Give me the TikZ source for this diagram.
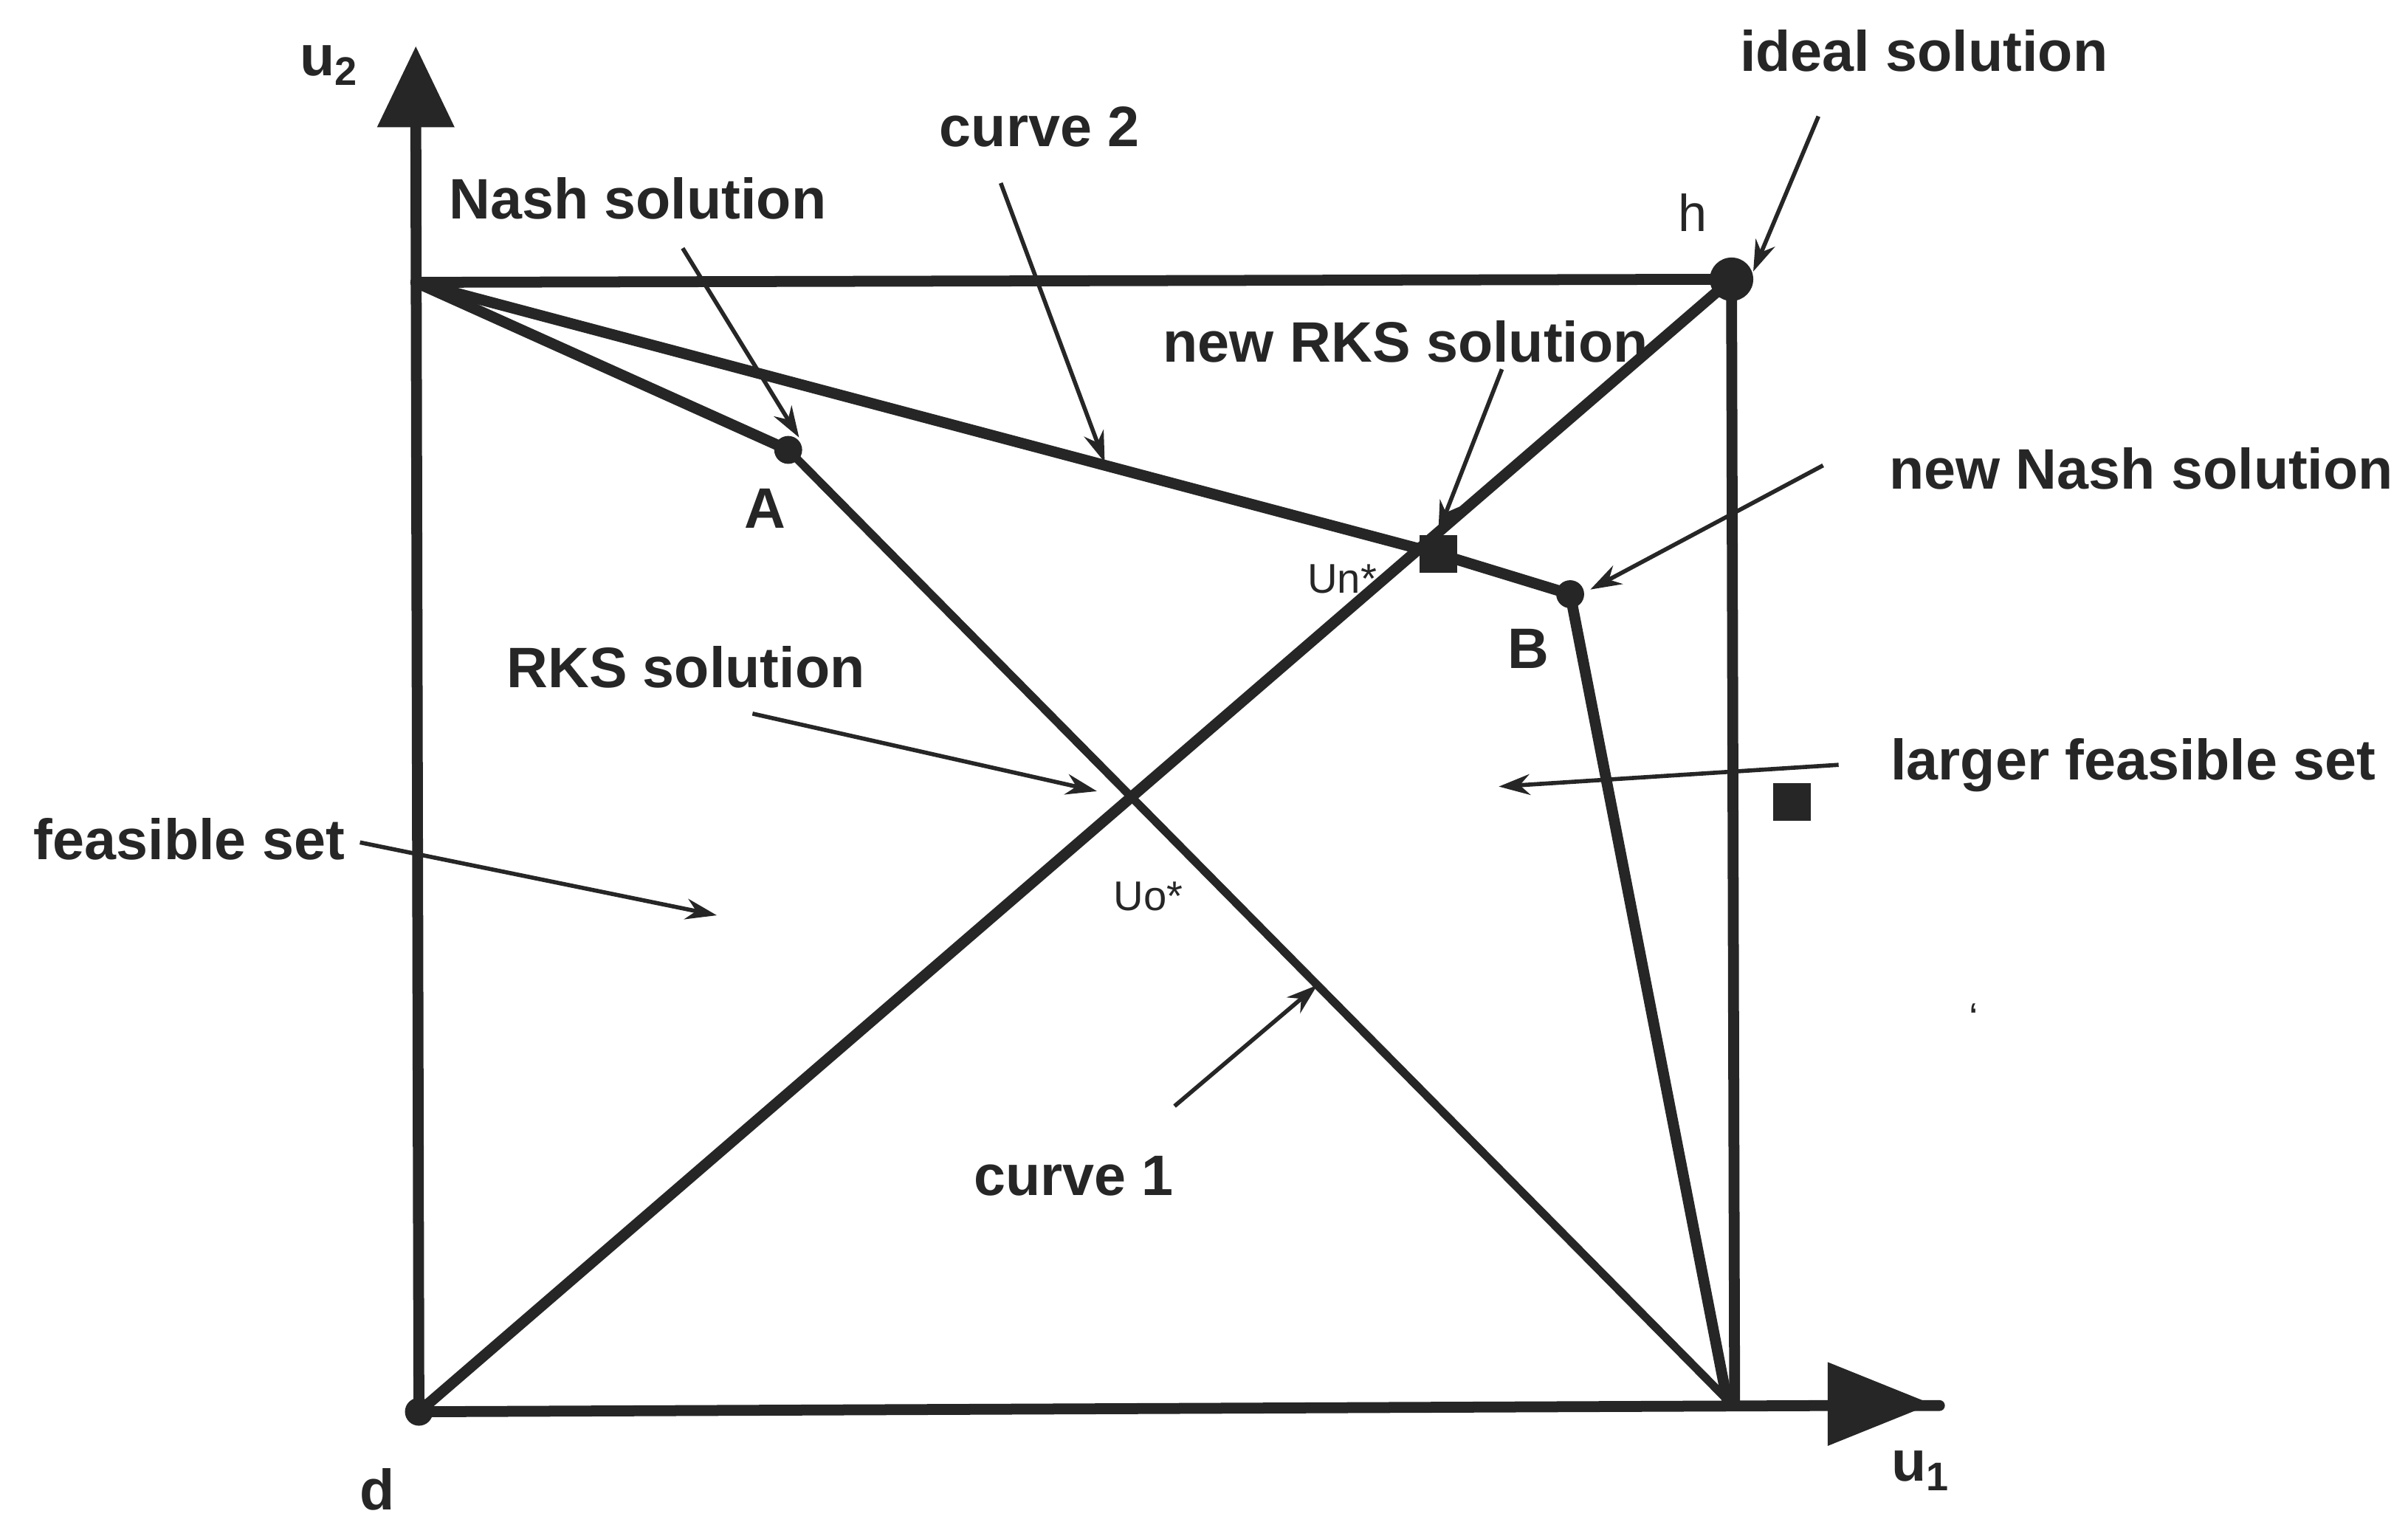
\documentclass[tikz,border=0pt]{standalone}
\usepackage{fontspec}
\usetikzlibrary{arrows.meta}
\setmainfont{Liberation Sans}
\begin{document}
\begin{tikzpicture}[x=0.02102cm,y=-0.02102cm,
  thick line/.style={line width=4.2pt,color=black!85,line cap=round},
  med line/.style={line width=3.2pt,color=black!85},
  pt/.style={circle,fill=black!85,inner sep=0pt,minimum size=18*0.02102cm},
  sq/.style={rectangle,fill=black!85,inner sep=0pt,minimum size=24*0.02102cm},
  lbl/.style={font=\fontsize{22}{26}\selectfont\bfseries,text=black!85,inner sep=0pt},
  sml/.style={font=\fontsize{16}{19}\selectfont,text=black!85,inner sep=0pt},
  ar/.style={line width=1.6pt,color=black!85,-{Stealth[length=12pt,width=8pt]}}]
\useasboundingbox (0,0) rectangle (1552,981);
\coordinate (d) at (270,910);
\coordinate (P) at (268,182);
\coordinate (h) at (1116,180);
\coordinate (A) at (508,290);
\coordinate (Un) at (927,357);
\coordinate (B) at (1012,383);
\coordinate (C) at (1113,902);
\coordinate (H2) at (1118,905);
\coordinate (yt) at (268,80);
\coordinate (xt) at (1180,906);
% axes
\draw[thick line] (d) -- (yt);
\fill[black!85] (268,30) -- (243,82) -- (293,82) -- cycle;
\draw[thick line] (d) -- (xt) -- (1250,906);
\fill[black!85] (1245,905) -- (1178,878) -- (1178,932) -- cycle;
% box
\draw[thick line] (P) -- (h) -- (H2);
\draw[thick line] (P) -- (A);
\draw[thick line] (P) -- (Un) -- (B);
\draw[med line] (A) -- (C);
\draw[thick line] (B) -- (C);
\draw[thick line] (d) -- (h);
% points
\node[pt] (dA) at (A) {};
\node[pt] (dB) at (B) {};
\node[pt] (dd) at (d) {};
\node[pt,minimum size=28*0.02102cm] (dh) at (h) {};
\node[sq] (sUn) at (Un) {};
\node[sq] (s2) at (1155,517) {};
% labels
\node[lbl] (lu2) at (212,42) {u\textsubscript{2}};
\node[lbl] (lnash) at (411,128) {Nash solution};
\node[lbl] (lc2) at (670,82) {curve 2};
\node[sml,font=\fontsize{20}{24}\selectfont] (lh) at (1091,137) {h};
\node[lbl] (lideal) at (1240,33) {ideal solution};
\node[lbl] (lnrks) at (906,220) {new RKS solution};
\node[lbl] (lnnash) at (1380,302) {new Nash solution};
\node[lbl] (lA) at (493,328) {A};
\node[sml] (lUn) at (865,373) {Un*};
\node[lbl] (lB) at (985,418) {B};
\node[lbl] (lrks) at (442,430) {RKS solution};
\node[lbl] (llarge) at (1375,493) {larger feasible set};
\node[lbl] (lfeas) at (122,541) {feasible set};
\node[sml] (lUo) at (740,578) {Uo*};
\node[lbl] (lc1) at (692,758) {curve 1};
\node[lbl] (ld) at (243,960) {d};
\node[lbl] (lu1) at (1238,948) {u\textsubscript{1}};
\node[sml] (tick) at (1272,656) {`};
% arrows
\coordinate (a1s) at (440,160); \coordinate (a1e) at (515,282);
\coordinate (a2s) at (645,118); \coordinate (a2e) at (712,298);
\coordinate (a3s) at (1172,75); \coordinate (a3e) at (1130,175);
\coordinate (a4s) at (968,238); \coordinate (a4e) at (927,343);
\coordinate (a5s) at (1175,300); \coordinate (a5e) at (1025,380);
\coordinate (a6s) at (485,460); \coordinate (a6e) at (707,510);
\coordinate (a7s) at (1185,493); \coordinate (a7e) at (966,507);
\coordinate (a8s) at (232,543); \coordinate (a8e) at (462,590);
\coordinate (a9s) at (757,713); \coordinate (a9e) at (849,635);
\foreach \i in {1,...,9} \draw[ar] (a\i s) -- (a\i e);
\end{tikzpicture}
\end{document}
